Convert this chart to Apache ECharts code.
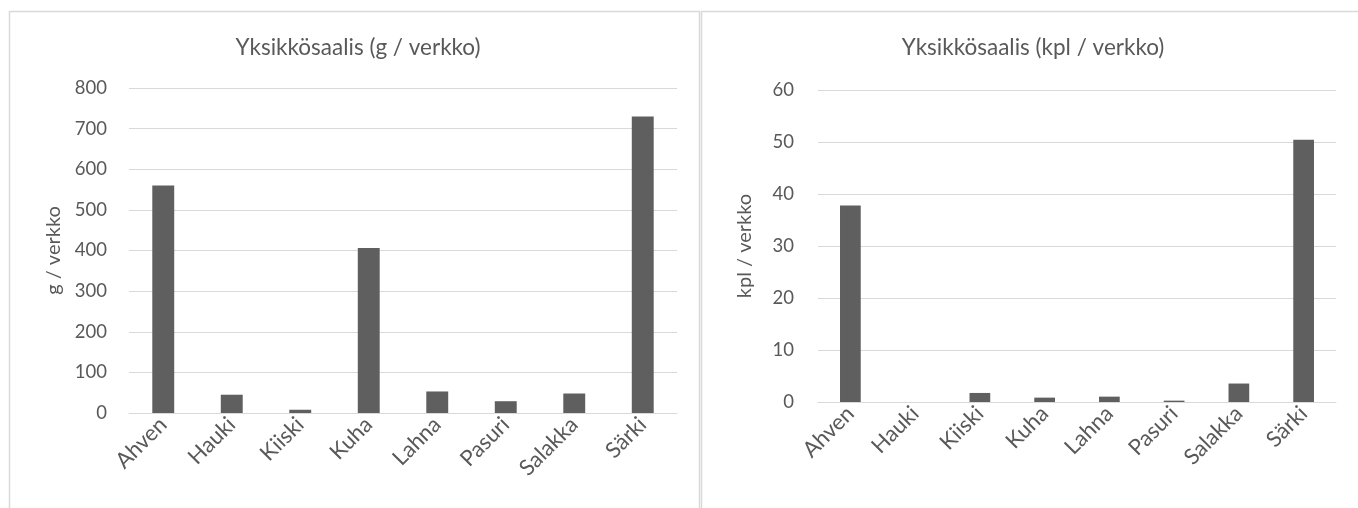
<!DOCTYPE html>
<html>
<head>
<meta charset="utf-8">
<style>
  html, body { margin: 0; padding: 0; background: #ffffff; }
  #chart { width: 1358px; height: 508px; }
</style>
<script src="https://cdn.jsdelivr.net/npm/echarts@6/dist/echarts.min.js"></script>
</head>
<body>
<div id="chart"></div>
<script>
// Species caught in the test netting
const species = ['Ahven', 'Hauki', 'Kiiski', 'Kuha', 'Lahna', 'Pasuri', 'Salakka', 'Särki'];
// Catch per net, grams
const gramsPerNet = [560, 45, 8, 406, 53, 29, 48, 730];
// Catch per net, number of fish
const countPerNet = [37.8, 0, 1.74, 0.84, 1.03, 0.26, 3.55, 50.45];

const titles = ['Yksikkösaalis (g / verkko)', 'Yksikkösaalis (kpl / verkko)'];
const axisNames = ['g / verkko', 'kpl / verkko'];

const FONT = 'Lato, "Open Sans", sans-serif';
const TEXT = '#595959';
const GRID = '#d9d9d9';
const BAR = '#5f5f5f';

const chart = echarts.init(document.getElementById('chart'), null, { renderer: 'canvas' });

function catAxis(idx) {
  return {
    type: 'category',
    gridIndex: idx,
    data: species,
    axisTick: { show: false },
    axisLine: { show: true, lineStyle: { color: GRID, width: 1 } },
    axisLabel: {
      rotate: 45, color: TEXT, fontFamily: FONT, fontSize: 22, margin: 8, interval: 0
    }
  };
}

function valAxis(idx, max, interval, gap, labelMargin) {
  return {
    type: 'value',
    gridIndex: idx,
    min: 0, max: max, interval: interval,
    name: axisNames[idx],
    nameLocation: 'middle',
    nameGap: gap,
    nameTextStyle: { color: TEXT, fontFamily: FONT, fontSize: 20 },
    axisLine: { show: false },
    axisTick: { show: false },
    splitLine: { lineStyle: { color: GRID, width: 1 } },
    axisLabel: { color: TEXT, fontFamily: FONT, fontSize: 18.5, margin: labelMargin }
  };
}

chart.setOption({
  animation: false,
  backgroundColor: '#ffffff',
  graphic: [
    { type: 'rect', shape: { x: 9.5, y: 11.5, width: 690, height: 520 },
      style: { fill: null, stroke: GRID, lineWidth: 1.5 }, silent: true },
    { type: 'rect', shape: { x: 701.5, y: 11.5, width: 700, height: 520 },
      style: { fill: null, stroke: GRID, lineWidth: 1.5 }, silent: true }
  ],
  title: [
    { text: titles[0], left: 353, top: 31, textAlign: 'center',
      textStyle: { color: TEXT, fontFamily: FONT, fontSize: 22.5, fontWeight: 'normal' } },
    { text: titles[1], left: 1028, top: 31, textAlign: 'center',
      textStyle: { color: TEXT, fontFamily: FONT, fontSize: 22.5, fontWeight: 'normal' } }
  ],
  grid: [
    { left: 129, top: 88, width: 548, height: 325 },
    { left: 818, top: 90, width: 518, height: 312 }
  ],
  xAxis: [catAxis(0), catAxis(1)],
  yAxis: [valAxis(0, 800, 100, 65, 22), valAxis(1, 60, 10, 63, 24)],
  series: [
    { type: 'bar', xAxisIndex: 0, yAxisIndex: 0, data: gramsPerNet,
      barWidth: '32%', itemStyle: { color: BAR } },
    { type: 'bar', xAxisIndex: 1, yAxisIndex: 1, data: countPerNet,
      barWidth: '32%', itemStyle: { color: BAR } }
  ]
});
</script>
</body>
</html>
